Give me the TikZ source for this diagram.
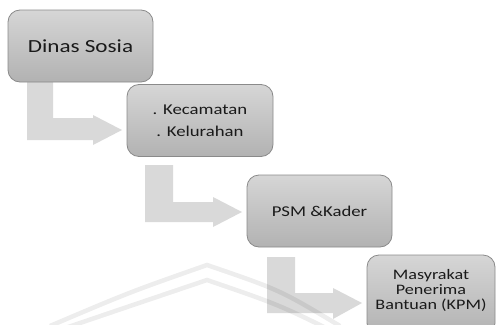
\documentclass[tikz,border=0pt]{standalone}
\usepackage{fontspec}
\setmainfont{Carlito}
\newfontfamily\widefont[FakeStretch=1.25]{Carlito}
\definecolor{boxtop}{HTML}{D6D6D6}
\definecolor{boxbot}{HTML}{B2B2B2}
\definecolor{boxline}{HTML}{8A8A8A}
\definecolor{arrowfill}{HTML}{D9D9D9}
\definecolor{txtcol}{HTML}{1A1A1A}
\begin{document}
\begin{tikzpicture}[x=1pt,y=-1pt,
  boxst/.style={draw=boxline, line width=0.8pt, rounded corners=12pt,
    top color=boxtop, bottom color=boxbot, inner sep=0pt, text=txtcol, align=center},
  bendarrow/.style={fill=arrowfill, draw=none},
  wmark/.style={draw=black, draw opacity=0.07, line width=4.5pt}]
\useasboundingbox (0,0) rectangle (500,324);
\clip (0,0) rectangle (500,324);

% bending arrows
\fill[bendarrow] (27,82) -- (53,82) -- (53,118) -- (93,118) -- (93,115) -- (122,130)
  -- (93,145) -- (93,140) -- (27,140) -- cycle;
\fill[bendarrow] (145,165) -- (173,165) -- (173,202) -- (213,202) -- (213,197) -- (242,212)
  -- (213,227) -- (213,222) -- (145,222) -- cycle;
\fill[bendarrow] (267,257) -- (295,257) -- (295,293) -- (333,293) -- (333,288) -- (362,303)
  -- (333,319) -- (333,313) -- (267,313) -- cycle;

% boxes
\node[boxst, minimum width=145pt, minimum height=72pt, font=\widefont\fontsize{18.5}{20}\selectfont]
  (b1) at (80.5,46) {Dinas Sosia};
\node[boxst, minimum width=146pt, minimum height=72pt, font=\widefont\fontsize{15}{22}\selectfont]
  (b2) at (200,120.5) {. Kecamatan\\. Kelurahan};
\node[boxst, minimum width=145pt, minimum height=72pt, font=\widefont\fontsize{15}{17}\selectfont]
  (b3) at (319.5,211) {PSM \&Kader};
\node[boxst, minimum width=128pt, minimum height=80pt] (b4) at (431,295) {};
\node[text=txtcol, align=center, inner sep=0pt, font=\widefont\fontsize{14.5}{15}\selectfont]
  (t4) at (431,290.5) {Masyrakat\\Penerima\\Bantuan (KPM)};

% faint watermark arcs
\draw[wmark] (50,326) .. controls (130,292) .. (207,265) .. controls (280,290) .. (340,326);
\draw[wmark] (30,340) .. controls (130,306) .. (207,280) .. controls (280,305) .. (350,340);
\end{tikzpicture}
\end{document}
